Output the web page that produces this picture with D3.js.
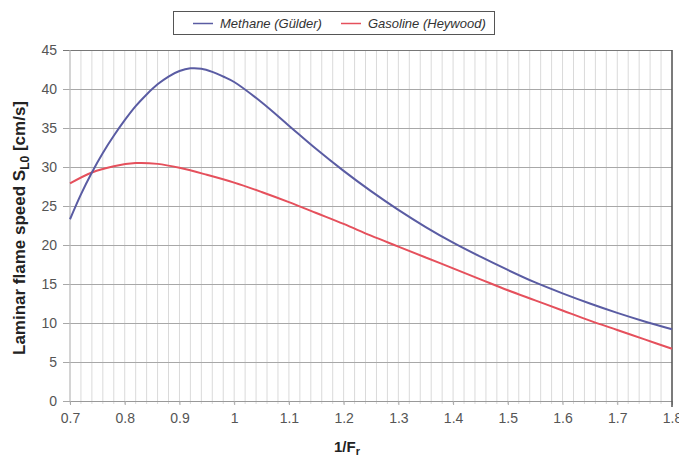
<!DOCTYPE html>
<html>
<head>
<meta charset="utf-8">
<script src="https://cdn.jsdelivr.net/npm/d3@7"></script>
<style>
  body { margin: 0; background: #fff; }
  text { font-family: "Liberation Sans", Arial, sans-serif; }
</style>
</head>
<body>
<div id="chart"></div>
<script>
// inverse equivalence ratio 1/Fr
var methaneX = [0.70, 0.72, 0.74, 0.76, 0.78, 0.80, 0.82, 0.84, 0.86, 0.88, 0.90, 0.92, 0.94, 0.96, 0.98, 1.00,
                1.05, 1.10, 1.15, 1.20, 1.25, 1.30, 1.35, 1.40, 1.45, 1.50, 1.55, 1.60, 1.65, 1.70, 1.75, 1.80];
var methaneY = [23.3, 26.5, 29.3, 31.8, 34.0, 36.0, 37.8, 39.3, 40.6, 41.6, 42.3, 42.65, 42.6, 42.2, 41.6, 40.9,
                38.3, 35.3, 32.3, 29.5, 26.9, 24.5, 22.3, 20.3, 18.5, 16.8, 15.2, 13.8, 12.5, 11.3, 10.2, 9.2];

var gasolineX = [0.70, 0.74, 0.78, 0.82, 0.86, 0.90, 0.95, 1.00, 1.05, 1.10, 1.15, 1.20, 1.25, 1.30,
                 1.35, 1.40, 1.45, 1.50, 1.55, 1.60, 1.65, 1.70, 1.75, 1.80];
var gasolineY = [27.9, 29.3, 30.1, 30.5, 30.4, 29.9, 29.0, 28.0, 26.8, 25.5, 24.1, 22.7, 21.2, 19.8,
                 18.4, 17.0, 15.6, 14.2, 12.9, 11.6, 10.3, 9.1, 7.9, 6.7];

var xTicks = [0.7, 0.8, 0.9, 1.0, 1.1, 1.2, 1.3, 1.4, 1.5, 1.6, 1.7, 1.8];
var yTicks = [0, 5, 10, 15, 20, 25, 30, 35, 40, 45];
var seriesNames = ["Methane (Gülder)", "Gasoline (Heywood)"];
var seriesColors = ["#5a5ca3", "#e5505c"];

var W = 679, H = 456;
var margin = { top: 50, left: 70, bottom: 55, right: 7 };
var width = W - margin.left - margin.right;
var height = H - margin.top - margin.bottom;

var svg = d3.select("#chart").append("svg")
    .attr("width", W)
    .attr("height", H);

var g = svg.append("g")
    .attr("transform", "translate(" + margin.left + "," + margin.top + ")");

var xScale = d3.scaleLinear().domain([0.7, 1.8]).range([0, width]);
var yScale = d3.scaleLinear().domain([0, 45]).range([height, 0]);

// minor vertical grid every 0.02
var minor = d3.range(0, 56).map(function (i) { return 0.7 + i * 0.02; });
g.append("g").selectAll("line")
    .data(minor)
    .enter().append("line")
    .attr("x1", function (d) { return xScale(d); })
    .attr("x2", function (d) { return xScale(d); })
    .attr("y1", 0)
    .attr("y2", height + 3)
    .attr("stroke", "#dadada")
    .attr("stroke-width", 1);

// horizontal grid (y axis with long ticks)
var yAxis = g.append("g")
    .call(d3.axisLeft(yScale).tickValues(yTicks).tickSize(-width).tickPadding(6));
yAxis.select(".domain").remove();
yAxis.selectAll(".tick line")
    .attr("x1", -7)
    .attr("x2", width)
    .attr("stroke", function (d) { return d == 45 ? "#777" : "#a8a8a8"; });
yAxis.selectAll(".tick text")
    .attr("x", -13)
    .attr("font-size", 14)
    .attr("fill", "#555");

// x axis
var xAxis = g.append("g")
    .attr("transform", "translate(0," + height + ")")
    .call(d3.axisBottom(xScale).tickValues(xTicks).tickSize(4).tickPadding(8)
        .tickFormat(function (d) { return d3.format("")(+d.toFixed(1)); }));
xAxis.select(".domain").attr("stroke", "#999");
xAxis.selectAll(".tick line").attr("stroke", "#aaa");
xAxis.selectAll(".tick text")
    .attr("font-size", 14)
    .attr("fill", "#555");

// left and right frame
g.append("line")
    .attr("x1", 0).attr("x2", 0)
    .attr("y1", 0).attr("y2", height)
    .attr("stroke", "#bbb");
g.append("line")
    .attr("x1", width).attr("x2", width)
    .attr("y1", 0).attr("y2", height + 6)
    .attr("stroke", "#555")
    .attr("stroke-width", 1.5);

var line = d3.line()
    .x(function (d) { return xScale(d[0]); })
    .y(function (d) { return yScale(d[1]); })
    .curve(d3.curveCatmullRom);

var methane = d3.zip(methaneX, methaneY);
var gasoline = d3.zip(gasolineX, gasolineY);

g.append("path")
    .datum(gasoline)
    .attr("d", line)
    .attr("fill", "none")
    .attr("stroke", seriesColors[1])
    .attr("stroke-width", 2);

g.append("path")
    .datum(methane)
    .attr("d", line)
    .attr("fill", "none")
    .attr("stroke", seriesColors[0])
    .attr("stroke-width", 2);

// legend
var legend = svg.append("g");
legend.append("rect")
    .attr("x", 173.5).attr("y", 11.5)
    .attr("width", 321).attr("height", 23)
    .attr("fill", "#fff")
    .attr("stroke", "#555");
var legendX = [193, 341];
seriesNames.forEach(function (name, i) {
    legend.append("line")
        .attr("x1", legendX[i]).attr("x2", legendX[i] + 20)
        .attr("y1", 23.5).attr("y2", 23.5)
        .attr("stroke", seriesColors[i])
        .attr("stroke-width", 1.5);
    legend.append("text")
        .attr("x", legendX[i] + 27)
        .attr("y", 28)
        .attr("font-size", 13)
        .attr("font-style", "italic")
        .attr("fill", "#333")
        .text(name);
});

// axis titles
var yTitle = svg.append("text")
    .attr("transform", "translate(25,228) rotate(-90)")
    .attr("text-anchor", "middle")
    .attr("font-size", 17)
    .attr("font-weight", "bold")
    .attr("fill", "#222");
yTitle.append("tspan").text("Laminar flame speed S");
yTitle.append("tspan").attr("font-size", 12).attr("dy", 4).text("L0");
yTitle.append("tspan").attr("dy", -4).text(" [cm/s]");

var xTitle = svg.append("text")
    .attr("x", 347)
    .attr("y", 452)
    .attr("text-anchor", "middle")
    .attr("font-size", 15)
    .attr("font-weight", "bold")
    .attr("fill", "#222");
xTitle.append("tspan").text("1/F");
xTitle.append("tspan").attr("font-size", 11).attr("dy", 3).text("r");
</script>
</body>
</html>
